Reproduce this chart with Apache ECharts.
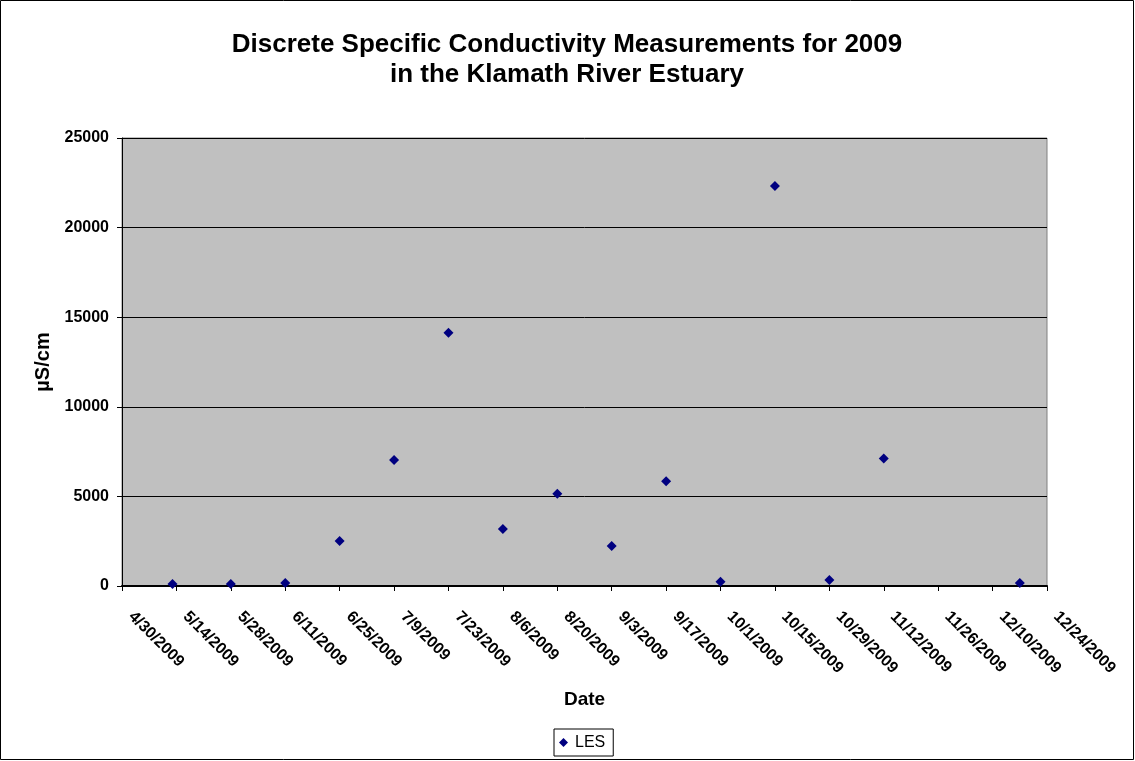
<!DOCTYPE html>
<html>
<head>
<meta charset="utf-8">
<script src="https://cdn.jsdelivr.net/npm/echarts@6/dist/echarts.min.js"></script>
<style>
html,body{margin:0;padding:0;background:#fff;}
#chart{width:1135px;height:761px;}
</style>
</head>
<body>
<div id="chart"></div>
<script>
// Data
const seriesName = 'LES';
const sampleDates = ['2009-05-13','2009-05-28','2009-06-11','2009-06-25','2009-07-09','2009-07-23','2009-08-06','2009-08-20','2009-09-03','2009-09-17','2009-10-01','2009-10-15','2009-10-29','2009-11-12','2009-12-17'];
const conductivity = [110, 110, 170, 2510, 7030, 14130, 3180, 5150, 2230, 5840, 240, 22320, 330, 7120, 170];
const axisStartDate = '2009-04-30';
const axisEndDate = '2009-12-24';
const xTickStepDays = 14;
const yTicks = [0, 5000, 10000, 15000, 20000, 25000];

const DAY = 86400000;
function parseUTC(s){ const p = s.split('-').map(Number); return Date.UTC(p[0], p[1]-1, p[2]); }
const t0 = parseUTC(axisStartDate);
const dayOffset = s => Math.round((parseUTC(s) - t0) / DAY);
const xMax = dayOffset(axisEndDate);
const points = sampleDates.map((d, i) => [dayOffset(d), conductivity[i]]);
function fmtDay(v){
  const d = new Date(t0 + v * DAY);
  return (d.getUTCMonth()+1) + '/' + d.getUTCDate() + '/' + d.getUTCFullYear();
}

const FONT = 'Liberation Sans, Arial, sans-serif';
const chart = echarts.init(document.getElementById('chart'), null, {renderer:'canvas'});
chart.setOption({
  backgroundColor: '#ffffff',
  animation: false,
  title: {
    text: 'Discrete Specific Conductivity Measurements for 2009\nin the Klamath River Estuary',
    left: 567, top: 30, textAlign: 'center', padding: 0,
    textStyle: {fontFamily: FONT, fontSize: 26, fontWeight: 'bold', color: '#000', lineHeight: 30}
  },
  legend: {
    data: [{name: seriesName, icon: 'diamond'}],
    left: 554, top: 729,
    itemWidth: 9, itemHeight: 9, itemGap: 4,
    borderColor: '#000', borderWidth: 1, padding: [5, 8, 5, 5],
    itemStyle: {opacity: 1},
    textStyle: {fontFamily: FONT, fontSize: 16, color: '#000', lineHeight: 17, padding: [0,0,0,2]}
  },
  grid: {
    left: 122, right: 88, top: 138, bottom: 175,
    show: true, backgroundColor: '#C0C0C0', borderColor: '#808080', borderWidth: 1
  },
  graphic: [{
    type: 'rect', shape: {x: 0.5, y: 0.5, width: 1133, height: 759},
    style: {fill: 'none', stroke: '#000', lineWidth: 1}, silent: true, z: 100
  }],
  xAxis: {
    type: 'value', min: 0, max: xMax, interval: xTickStepDays,
    name: 'Date', nameLocation: 'middle', nameGap: 104,
    nameTextStyle: {fontFamily: FONT, fontSize: 19, fontWeight: 'bold', color: '#000'},
    axisLine: {show: true, onZero: false, lineStyle: {color: '#000', width: 2}},
    axisTick: {show: true, inside: false, length: 5, lineStyle: {color: '#000'}},
    splitLine: {show: false},
    axisLabel: {
      rotate: -45, margin: 19, formatter: fmtDay, padding: [0, 0, 0, 13],
      fontFamily: FONT, fontSize: 16, fontWeight: 'bold', color: '#000',
      showMinLabel: true, showMaxLabel: true, hideOverlap: false
    }
  },
  yAxis: {
    type: 'value', min: yTicks[0], max: yTicks[yTicks.length-1], interval: yTicks[1]-yTicks[0],
    name: 'µS/cm', nameLocation: 'middle', nameGap: 69, nameRotate: 90,
    nameTextStyle: {fontFamily: FONT, fontSize: 20, fontWeight: 'bold', color: '#000'},
    axisLine: {show: true, lineStyle: {color: '#000', width: 1}},
    axisTick: {show: true, inside: false, length: 5, lineStyle: {color: '#000'}},
    splitLine: {show: true, lineStyle: {color: '#000', width: 1}},
    axisLabel: {margin: 13, formatter: v => String(v), fontFamily: FONT, fontSize: 16, fontWeight: 'bold', color: '#000'}
  },
  series: [{
    name: seriesName, type: 'scatter', symbol: 'diamond', symbolSize: 10,
    itemStyle: {color: '#000080', opacity: 1},
    data: points, z: 5
  }]
});
</script>
</body>
</html>
